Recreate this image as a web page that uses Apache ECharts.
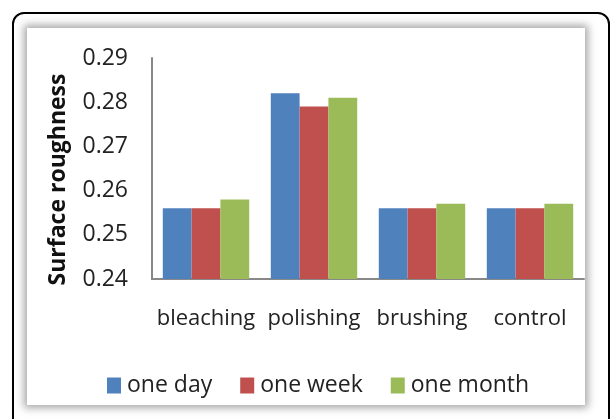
<!DOCTYPE html>
<html>
<head>
<meta charset="utf-8">
<script src="https://cdn.jsdelivr.net/npm/echarts@6/dist/echarts.min.js"></script>
<style>
html,body{margin:0;padding:0;background:#fff;}
#wrap{position:relative;width:616px;height:419px;overflow:hidden;background:#fff;}
#outer{position:absolute;left:12px;top:12px;width:598px;height:430px;border:2px solid #000;border-radius:12px;box-sizing:border-box;}
#panel{position:absolute;left:27px;top:28px;width:558px;height:377px;background:#fff;box-shadow:0 0 8px 3px rgba(0,0,0,0.35);}
#chart{position:absolute;left:0;top:0;width:616px;height:419px;}
</style>
</head>
<body>
<div id="wrap">
<div id="outer"></div>
<div id="panel"></div>
<div id="chart"></div>
</div>
<script>
const categories = ['bleaching', 'polishing', 'brushing', 'control'];
const seriesNames = ['one day', 'one week', 'one month'];
const oneDay = [0.256, 0.282, 0.256, 0.256];
const oneWeek = [0.256, 0.279, 0.256, 0.256];
const oneMonth = [0.258, 0.281, 0.257, 0.257];
const yTicks = [0.24, 0.25, 0.26, 0.27, 0.28, 0.29];
const colors = ['#4F81BD', '#C0504D', '#9BBB59'];
const FONT = 'Open Sans';

const chart = echarts.init(document.getElementById('chart'), null, {renderer: 'canvas'});
chart.setOption({
  backgroundColor: 'transparent',
  animation: false,
  color: colors,
  grid: {left: 152, right: 32, top: 58, bottom: 140, containLabel: false},
  legend: {
    data: seriesNames,
    left: 102, top: 369,
    itemWidth: 14, itemHeight: 16, itemGap: 28,
    icon: 'rect',
    textStyle: {fontFamily: FONT, fontSize: 23, color: '#222', padding: [0,0,0,1]}
  },
  xAxis: {
    type: 'category',
    data: categories,
    axisLine: {lineStyle: {color: '#888', width: 2}},
    axisTick: {show: false},
    axisLabel: {fontFamily: FONT, fontSize: 22, color: '#222', margin: 29, interval: 0}
  },
  yAxis: {
    type: 'value',
    min: yTicks[0], max: yTicks[yTicks.length - 1], interval: 0.01,
    name: 'Surface roughness',
    nameLocation: 'middle',
    nameRotate: 90,
    nameGap: 82,
    nameTextStyle: {fontFamily: FONT, fontSize: 23, fontWeight: 'bold', color: '#111', padding: [0, 22, 0, 0]},
    axisLine: {show: true, lineStyle: {color: '#888', width: 2}},
    axisTick: {show: false},
    splitLine: {show: false},
    axisLabel: {fontFamily: FONT, fontSize: 23, color: '#222', margin: 24, formatter: v => v.toFixed(2)}
  },
  series: [
    {name: seriesNames[0], type: 'bar', data: oneDay, barGap: '0%', barCategoryGap: '20%'},
    {name: seriesNames[1], type: 'bar', data: oneWeek, barGap: '0%', barCategoryGap: '20%'},
    {name: seriesNames[2], type: 'bar', data: oneMonth, barGap: '0%', barCategoryGap: '20%'}
  ]
});
</script>
</body>
</html>
